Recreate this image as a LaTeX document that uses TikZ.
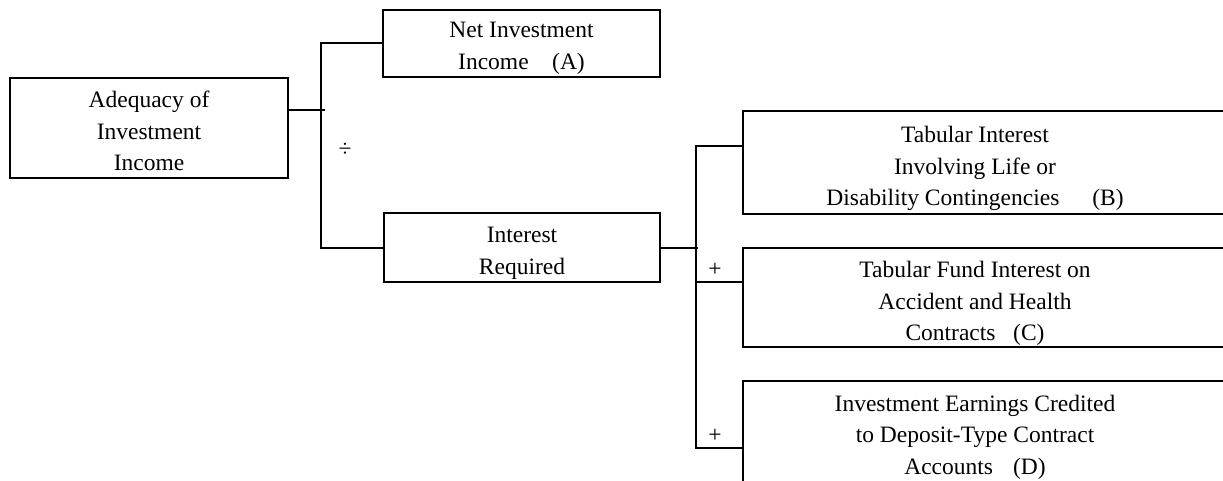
\documentclass[tikz,border=0pt]{standalone}
\usepackage{fontspec}
\setmainfont{Liberation Serif}
\usetikzlibrary{positioning}
\begin{document}
\begin{tikzpicture}[x=1pt, y=-1pt, line cap=rect, line join=miter, font=\fontsize{23.5}{31.5}\selectfont]
				\tikzset{box/.style={draw, line width=2pt, inner sep=0pt},
					openbox/.style={inner sep=0pt, minimum width=464pt},
					txt/.style={align=center, inner sep=0pt},
					wire/.style={line width=2pt}}
				\useasboundingbox (0,0) rectangle (1223,481);
				\clip (0,0) rectangle (1223,481);
				\node[box, minimum width=278pt, minimum height=100pt] (adq) at (149,128) {};
				\node[box, minimum width=277pt, minimum height=67pt] (net) at (521.5,43.5) {};
				\node[box, minimum width=276pt, minimum height=69pt] (ireq) at (522,247.5) {};
				\node[openbox, minimum height=103pt] (tabB) at (975,162.5) {};
				\node[openbox, minimum height=99pt] (tabC) at (975,297.5) {};
				\node[openbox, minimum height=106pt] (tabD) at (975,434) {};
				\node[txt] (adqT) at ([yshift=-3pt]adq) {Adequacy of\\Investment\\Income};
				\node[txt] (netT) at ([yshift=-5pt]net) {Net Investment\\Income\hspace{1em}(A)};
				\node[txt] (ireqT) at ([yshift=-6pt]ireq) {Interest\\Required};
				\node[txt] (tabBT) at ([yshift=-6pt]tabB) {Tabular Interest\\Involving Life or\\Disability Contingencies\hspace{1.4em}(B)};
				\node[txt] (tabCT) at ([yshift=-6pt]tabC) {Tabular Fund Interest on\\Accident and Health\\Contracts\hspace{0.75em}(C)};
				\node[txt] (tabDT) at ([yshift=-3pt]tabD) {Investment Earnings Credited\\to Deposit-Type Contract\\Accounts\hspace{0.85em}(D)};
				\foreach\b in {tabB,tabC,tabD} \draw[wire] ([xshift=40pt]\b.north east)--(\b.north west)--(\b.south west)--([xshift=40pt]\b.south east);
				\draw[wire] (adq.east) ++(0,-18) -- ++(35,0);
				\draw[wire] (net.west) -- ++(-61,0) |- (ireq.west);
				\draw[wire] (ireq.east) -- ++(36,0);
				\draw[wire] ([yshift=16.5pt]tabB.west) -- ++(-47,0) |- ([yshift=-14pt]tabD.west);
				\draw[wire] ([yshift=15.5pt]tabC.west) -- ++(-47,0);
				\node (div) at (345,150) {÷};
				\node (plusC) at (715,270) {+};
				\node (plusD) at (715,436) {+};
			\end{tikzpicture}
\end{document}
